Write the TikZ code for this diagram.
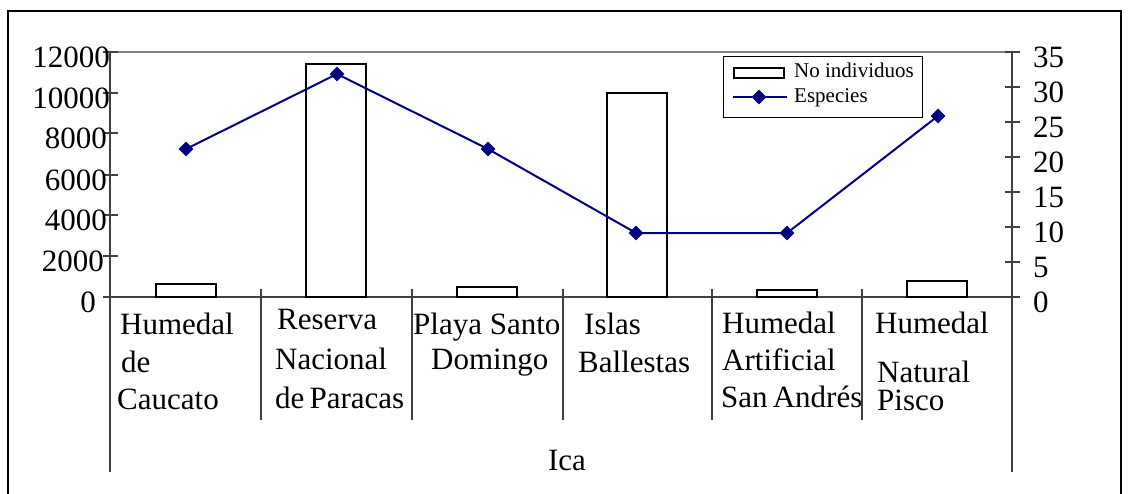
\documentclass[tikz,border=0pt]{standalone}
\usepackage{fontspec}
\setmainfont{Liberation Serif}
\usetikzlibrary{shapes.geometric}
\definecolor{navy}{RGB}{0,0,128}
\definecolor{axisgray}{RGB}{64,64,64}
\begin{document}
\begin{tikzpicture}[x=1pt,y=-1pt,
  bigtxt/.style={font=\fontsize{31}{37}\selectfont, inner sep=0pt},
  legtxt/.style={font=\fontsize{21}{25}\selectfont, inner sep=0pt, anchor=base west},
  axisline/.style={draw=axisgray, line width=1.2pt},
  bar/.style={draw=black, fill=white, line width=2pt, minimum width=60pt, inner sep=0pt, anchor=south},
  series/.style={draw=navy, line width=2pt},
  dia/.style={diamond, fill=navy, minimum size=15pt, inner sep=0pt},
  labl/.style={bigtxt, anchor=base west}]
\useasboundingbox (0,0) rectangle (1141,493);
\begin{scope}
\clip (0,0) rectangle (1141,493);
\draw[black, line width=2pt] (7.5,10.5) rectangle (1120.5,520);
\end{scope}
% plot area top border
\coordinate (tl) at (110,52);
\coordinate (tr) at (1012,52);
\draw[gray, line width=1.2pt] (tl) -- (tr);
% axes
\coordinate (lb) at (110,472);
\coordinate (rb) at (1012,472);
\draw[axisline] (tl) -- (lb);
\draw[axisline] (tr) -- (rb);
\coordinate (x0) at (103,297);
\coordinate (x1) at (1020,297);
\draw[axisline] (x0) -- (x1);
% left ticks and labels
\foreach \v/\yy/\xr in {12000/52/110, 10000/93/110, 8000/133/107, 6000/175/107, 4000/215/107, 2000/256/104}{
  \coordinate (lt\v a) at (103,\yy);
  \coordinate (lt\v b) at (118,\yy);
  \draw[axisline] (lt\v a) -- (lt\v b);
  \node[bigtxt, anchor=east] (ll\v) at (\xr,\yy+5) {\v};
}
\node[bigtxt, anchor=east] (ll0) at (96,302) {0};
% right ticks and labels
\foreach \v/\yy in {35/52, 30/87, 25/122, 20/157, 15/192, 10/227, 5/262, 0/297}{
  \coordinate (rt\v a) at (1005,\yy);
  \coordinate (rt\v b) at (1020,\yy);
  \draw[axisline] (rt\v a) -- (rt\v b);
  \node[bigtxt, anchor=west] (rl\v) at (1033,\yy+5) {\v};
}
% category separators
\foreach \i/\xx in {1/261, 2/412, 3/563, 4/712, 5/862}{
  \coordinate (sep\i a) at (\xx,289);
  \coordinate (sep\i b) at (\xx,420);
  \draw[axisline] (sep\i a) -- (sep\i b);
}
% bars
\node[bar, minimum height=13pt] (b1) at (186,298) {};
\node[bar, minimum height=233pt] (b2) at (336,298) {};
\node[bar, minimum height=10pt] (b3) at (487,298) {};
\node[bar, minimum height=204pt] (b4) at (637,298) {};
\node[bar, minimum height=7pt] (b5) at (787,298) {};
\node[bar, minimum height=16pt] (b6) at (937,298) {};
% series
\coordinate (p1) at (186,149);
\coordinate (p2) at (337,74);
\coordinate (p3) at (488,149);
\coordinate (p4) at (636,233);
\coordinate (p5) at (787,233);
\coordinate (p6) at (938,116);
\draw[series] (p1) -- (p2) -- (p3) -- (p4) -- (p5) -- (p6);
\foreach \i in {1,...,6}{\node[dia] (d\i) at (p\i) {};}
% legend
\node[draw=black, line width=1.2pt, fill=white, minimum width=199pt, minimum height=61pt, inner sep=0pt, anchor=north west] (leg) at (723,56) {};
\node[draw=black, line width=2pt, minimum width=50pt, minimum height=10pt, inner sep=0pt] (legbar) at (758.5,72.5) {};
\coordinate (lla) at (733,97);
\coordinate (llb) at (787,97);
\draw[series] (lla) -- (llb);
\node[dia] (legdia) at (759,97) {};
\node[legtxt] (legt1) at (794,77) {No individuos};
\node[legtxt] (legt2) at (794,102) {Especies};
% category labels
\node[labl] (c1a) at (120,334) {Humedal};
\node[labl] (c1b) at (121,372) {de};
\node[labl] (c1c) at (117,409) {Caucato};
\node[labl] (c2a) at (277,329) {Reserva};
\node[labl] (c2b) at (275,369) {Nacional};
\node[labl] (c2c) at (275,408) {de\,Paracas};
\node[labl] (c3a) at (413,334) {Playa Santo};
\node[labl] (c3b) at (431,369) {Domingo};
\node[labl] (c4a) at (584,334) {Islas};
\node[labl] (c4b) at (578,372) {Ballestas};
\node[labl] (c5a) at (722,333) {Humedal};
\node[labl] (c5b) at (722,370) {Artificial};
\node[labl] (c5c) at (721,407) {San\,Andrés};
\node[labl] (c6a) at (875,333) {Humedal};
\node[labl, text depth=0pt] (c6b) at (877,382) {Natural};
\node[labl, text height=21pt] (c6c) at (877,410) {Pisco};
\node[bigtxt, anchor=base] (ica) at (567,470) {Ica};
\end{tikzpicture}
\end{document}
